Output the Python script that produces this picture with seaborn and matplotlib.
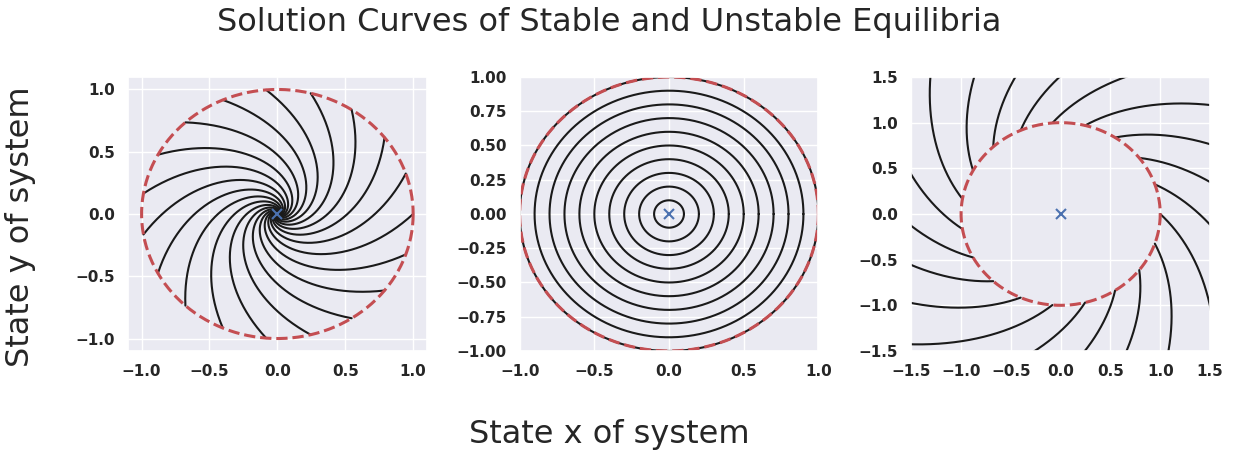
import numpy as np
import matplotlib
matplotlib.use("Agg")
import matplotlib.pyplot as plt
import seaborn as sns
import pandas as pd

# Linear systems x' = A x written in polar form:
# r' = rate * r, theta' = -spin
system_names = ["stable", "center", "unstable"]
growth_rates = [-1.0, 0.0, 1.0]
spin_rates = [1.0, 1.0, 1.0]

# Initial conditions: 19 evenly spaced points on the unit circle
start_angles_deg = [0.0, 18.95, 37.89, 56.84, 75.79, 94.74, 113.68, 132.63,
                    151.58, 170.53, 189.47, 208.42, 227.37, 246.32, 265.26,
                    284.21, 303.16, 322.11, 341.05]
center_radii = [0.1, 0.2, 0.3, 0.4, 0.5, 0.6, 0.7, 0.8, 0.9, 1.0]
time_spans = [8.0, 2 * np.pi, 1.0]
axis_limits = [None, (-1.0, 1.0), (-1.5, 1.5)]

sns.set_theme(style="darkgrid", context="notebook")
plt.rcParams["font.family"] = ["DejaVu Sans"]

fig, axes = plt.subplots(1, 3, figsize=(12.38, 4.54), dpi=100)
fig.subplots_adjust(left=0.1034, right=0.9774, bottom=0.2269, top=0.8304,
                    wspace=0.311)


def trajectory(r0, th0, rate, spin, t_end, n=600):
    t = np.linspace(0, t_end, n)
    r = r0 * np.exp(rate * t)
    th = th0 - spin * t
    return pd.DataFrame({"x": r * np.cos(th), "y": r * np.sin(th)})


for i, ax in enumerate(axes):
    rate, spin, t_end = growth_rates[i], spin_rates[i], time_spans[i]
    if system_names[i] == "center":
        inits = [(r, 0.0) for r in center_radii]
    else:
        inits = [(1.0, np.deg2rad(a)) for a in start_angles_deg]
    for r0, th0 in inits:
        df = trajectory(r0, th0, rate, spin, t_end)
        sns.lineplot(data=df, x="x", y="y", sort=False, estimator=None,
                     color="#1a1a1a", linewidth=1.5, ax=ax)

    # unit circle of initial states
    unit = trajectory(1.0, 0.0, 0.0, 1.0, 2 * np.pi, 400)
    ax.plot(unit["x"], unit["y"], "--", color="#C44E52", linewidth=2.2)

    # equilibrium point
    ax.plot([0], [0], "x", color="#4C72B0", markersize=7, markeredgewidth=1.5)

    if axis_limits[i] is not None:
        ax.set_xlim(*axis_limits[i])
        ax.set_ylim(*axis_limits[i])
    ax.set_xlabel("")
    ax.set_ylabel("")

axes[2].set_xticks([-1.5, -1.0, -0.5, 0.0, 0.5, 1.0, 1.5])
axes[2].set_yticks([-1.5, -1.0, -0.5, 0.0, 0.5, 1.0, 1.5])
for ax in axes:
    for lab in ax.get_xticklabels() + ax.get_yticklabels():
        lab.set_fontweight("bold")
        lab.set_fontsize(11)

fig.suptitle("Solution Curves of Stable and Unstable Equilibria",
             fontsize=23, x=0.492, y=0.985, color="#262626")
fig.supxlabel("State x of system", fontsize=23, x=0.492, y=0.008,
              color="#262626")
fig.supylabel("State y of system", fontsize=23, x=0.004, color="#262626")

fig.savefig("out.png", dpi=100)
